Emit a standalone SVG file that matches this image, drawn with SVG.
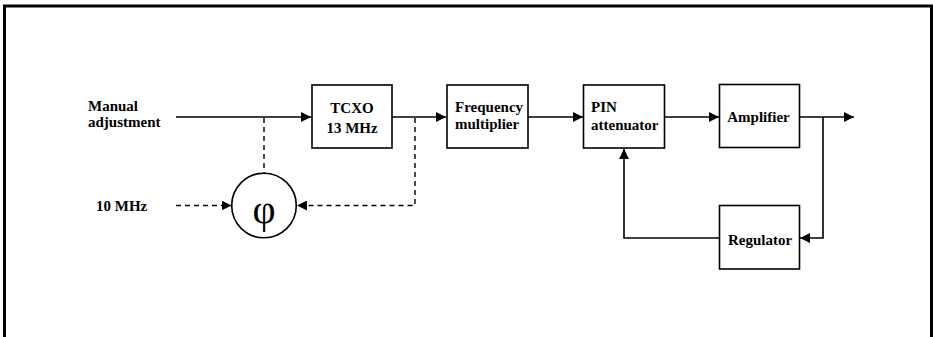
<svg xmlns="http://www.w3.org/2000/svg" width="933" height="337" viewBox="0 0 933 337">
<style>
.box{fill:#fff;stroke:#000;stroke-width:1.6}
.ln{fill:none;stroke:#000;stroke-width:1.6}
.ds{fill:none;stroke:#000;stroke-width:1.4;stroke-dasharray:5,4}
.t{font-family:"Liberation Serif","Times New Roman",serif;font-weight:bold;font-size:15px;fill:#000}
</style>
<defs>
<marker id="ah" viewBox="0 0 10 10" refX="10" refY="5" markerWidth="10" markerHeight="10" markerUnits="userSpaceOnUse" orient="auto">
<path d="M0,0 L10,5 L0,10 Z" fill="#000"/>
</marker>
</defs>
<rect x="0" y="0" width="933" height="337" fill="#fff"/>
<path d="M4.5,337 V6 H931.5 V337" fill="none" stroke="#000" stroke-width="3"/>

<g id="connectors">
<path class="ln" d="M176,117 H311" marker-end="url(#ah)"/>
<path class="ln" d="M392,117 H446" marker-end="url(#ah)"/>
<path class="ln" d="M528,117 H583" marker-end="url(#ah)"/>
<path class="ln" d="M664,117 H719" marker-end="url(#ah)"/>
<path class="ln" d="M799,117 H854" marker-end="url(#ah)"/>
<path class="ln" d="M823,117 V238 H800" marker-end="url(#ah)"/>
<path class="ln" d="M719,238 H624 V149" marker-end="url(#ah)"/>
<path class="ds" d="M264,118 V173"/>
<path class="ds" d="M415,118 V205.5 H297" marker-end="url(#ah)"/>
<path class="ds" d="M176,205.5 H231.5" marker-end="url(#ah)"/>
</g>

<g id="manual"><text class="t" x="88" y="110.5">Manual</text><text class="t" x="88" y="127">adjustment</text></g>
<g id="ref10"><text class="t" x="96" y="211">10 MHz</text></g>

<g id="tcxo">
<rect class="box" x="312" y="85" width="80" height="63"/>
<text class="t" x="352" y="112.5" text-anchor="middle">TCXO</text>
<text class="t" x="352" y="132.5" text-anchor="middle">13 MHz</text>
</g>
<g id="phase">
<circle cx="264" cy="205.5" r="32.3" fill="#fff" stroke="#000" stroke-width="1.6"/>
<text x="264" y="223" text-anchor="middle" font-family="'Liberation Serif','Times New Roman',serif" font-size="40">φ</text>
</g>
<g id="freqmult">
<rect class="box" x="447" y="85" width="81" height="63"/>
<text class="t" x="455" y="112.3">Frequency</text>
<text class="t" x="455" y="128.5">multiplier</text>
</g>
<g id="pin">
<rect class="box" x="583.5" y="85" width="81" height="63"/>
<text class="t" x="591" y="112.3">PIN</text>
<text class="t" x="591" y="130">attenuator</text>
</g>
<g id="amp">
<rect class="box" x="719.5" y="84.5" width="80" height="63"/>
<text class="t" x="758.5" y="122.3" text-anchor="middle">Amplifier</text>
</g>
<g id="reg">
<rect class="box" x="719.5" y="205.5" width="80" height="63.5"/>
<text class="t" x="760" y="245" text-anchor="middle">Regulator</text>
</g>
</svg>
